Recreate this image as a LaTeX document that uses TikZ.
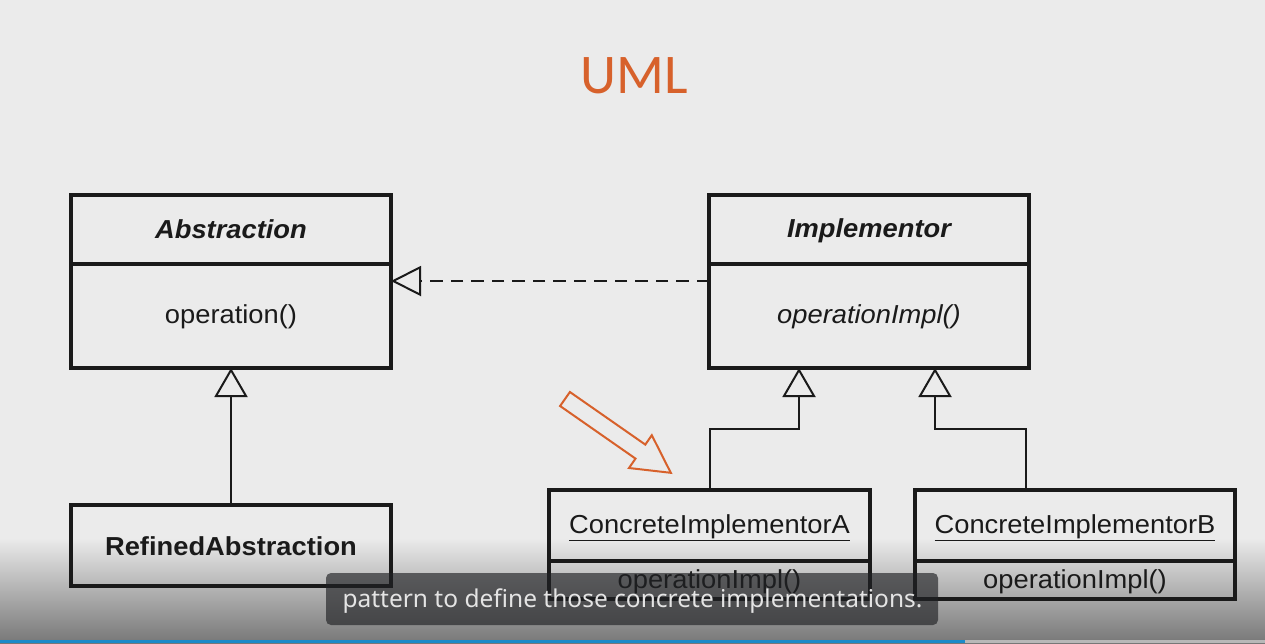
\documentclass[tikz,border=0pt]{standalone}
\usepackage{fontspec}
\setmainfont[FakeStretch=1.05]{Liberation Sans}
\newfontfamily\titlefont{Carlito}
\newfontfamily\capfont{Noto Sans}
\usetikzlibrary{arrows.meta}
\definecolor{bg}{HTML}{EBEBEB}
\definecolor{shadebot}{HTML}{777777}
\definecolor{ink}{HTML}{1A1A1A}
\definecolor{umlorange}{HTML}{D7612B}
\definecolor{capbg}{HTML}{202124}
\definecolor{captext}{HTML}{E4E4E4}
\definecolor{barblue}{HTML}{1B8AC9}
\definecolor{bargray}{HTML}{B8B8B8}
\begin{document}
\begin{tikzpicture}[x=1pt,y=-1pt,
  compart/.style={draw=ink, line width=3.5pt, minimum width=320pt, inner sep=0pt, outer sep=0pt},
  lbl/.style={anchor=base, text=ink, inner sep=0pt, font=\fontsize{26}{30}\selectfont},
  lblbi/.style={lbl, font=\fontsize{26}{30}\selectfont\bfseries\itshape},
  lbli/.style={lbl, font=\fontsize{26}{30}\selectfont\itshape},
  lblb/.style={lbl, font=\fontsize{26}{30}\selectfont\bfseries},
  gen/.style={draw=ink, line width=2pt, -{Triangle[open, length=29pt, width=33pt]}},
  realz/.style={draw=ink, line width=2pt, dash pattern=on 12.5pt off 8pt, -{Triangle[open, length=30pt, width=30pt]}},
]
\useasboundingbox (0,0) rectangle (1265,643);
\fill[bg] (0,0) rectangle (1265,643);
\shade[top color=bg, bottom color=shadebot] (0,538) rectangle (1265,643);

% title
\node[anchor=base, font=\titlefont\fontsize{56}{60}\selectfont, text=umlorange, inner sep=0pt] (title) at (634,93) {UML};

% class boxes
\node[compart, minimum height=69pt] (absH) at (231,229.5) {};
\node[compart, minimum height=104pt] (absB) at (231,316) {};
\node[compart, minimum height=69pt] (impH) at (869,229.5) {};
\node[compart, minimum height=104pt] (impB) at (869,316) {};
\node[compart, minimum height=81pt] (ref) at (231,545.5) {};
\node[compart, minimum width=321pt, minimum height=71pt] (caH) at (709.5,525.5) {};
\node[compart, minimum width=321pt, minimum height=38pt] (caB) at (709.5,580) {};
\node[compart, minimum height=71pt] (cbH) at (1075,525.5) {};
\node[compart, minimum height=38pt] (cbB) at (1075,580) {};

% texts
\node[lblbi] (tAbs) at (231,238) {Abstraction};
\node[lbl] (tOp) at (231,323) {operation()};
\node[lblbi] (tImp) at (869,237.5) {Implementor};
\node[lbli] (tOpI) at (869,323) {operationImpl()};
\node[lblb] (tRef) at (231,555) {RefinedAbstraction};
\node[lbl] (tCA) at (709.5,533) {\underline{ConcreteImplementorA}};
\node[lbl] (tCAo) at (709.5,588) {operationImpl()};
\node[lbl] (tCB) at (1075,533) {\underline{ConcreteImplementorB}};
\node[lbl] (tCBo) at (1075,588) {operationImpl()};

% connectors
\coordinate (dI) at ([yshift=35pt]impB.west);
\coordinate (dA) at ([yshift=35pt]absB.east);
\draw[realz] (dI) -- (dA);
\draw[gen] (ref.north) -- (absB.south);
\coordinate (tA) at ([xshift=-70pt]impB.south);
\coordinate (tB) at ([xshift=66pt]impB.south);
\draw[gen] ([xshift=0.5pt]caH.north) -- ++(0,-61) -| (tA);
\draw[gen] ([xshift=-49pt]cbH.north) -- ++(0,-61) -| (tB);

% orange pointer arrow
\draw[umlorange, line width=2pt, line join=miter]
  (569.9,392.0) -- (645.3,444.6) -- (651.8,435.2) -- (670.8,472.8)
  -- (629.0,468.0) -- (635.5,458.6) -- (560.1,406.0) -- cycle;

% caption overlay
\node[fill=capbg, fill opacity=0.65, rounded corners=5pt, minimum width=612pt, minimum height=52pt, inner sep=0pt] (capbox) at (632,599) {};
\node[anchor=base, font=\capfont\fontsize{24.5}{28}\selectfont, text=captext, inner sep=0pt] (captxt) at (632.5,607) {pattern to define those concrete implementations.};

% progress bar
\fill[bargray] (965,640) rectangle (1265,643);
\fill[barblue] (0,640) rectangle (965,643);
\end{tikzpicture}
\end{document}
